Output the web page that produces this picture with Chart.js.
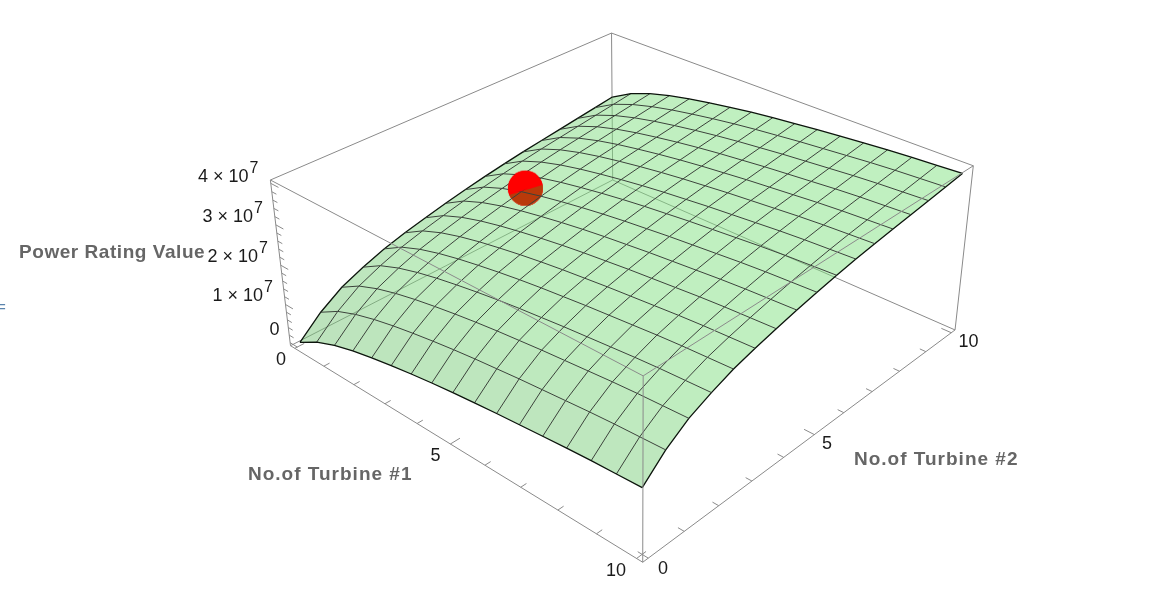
<!DOCTYPE html>
<html lang="en">
<head>
    <meta charset="UTF-8">
    <title>Power Rating Value</title>
    <script src="https://cdn.jsdelivr.net/npm/chart.js"></script>
    <style>
        html, body { margin: 0; padding: 0; background: #fff; overflow: hidden; }
        canvas { display: block; }
    </style>
</head>
<body>
    <canvas id="surfaceChart" width="1150" height="612"></canvas>

    <script>
        // turbine counts at the mesh lines
        const turbine1 = [0, 0.625, 1.25, 1.875, 2.5, 3.125, 3.75, 4.375, 5, 5.625, 6.25, 6.875, 7.5, 8.125, 8.75, 9.375, 10];
        const turbine2 = [0, 0.625, 1.25, 1.875, 2.5, 3.125, 3.75, 4.375, 5, 5.625, 6.25, 6.875, 7.5, 8.125, 8.75, 9.375, 10];

        // power rating in units of 1e7, one row per turbine1 value
        const powerRating = [
            [0.00, 0.49, 0.85, 1.09, 1.29, 1.44, 1.57, 1.69, 1.80, 1.90, 1.99, 2.07, 2.14, 2.21, 2.28, 2.35, 2.42],
            [0.30, 0.79, 1.15, 1.39, 1.59, 1.74, 1.87, 1.99, 2.10, 2.20, 2.29, 2.37, 2.44, 2.51, 2.58, 2.65, 2.72],
            [0.50, 0.99, 1.35, 1.59, 1.79, 1.94, 2.07, 2.19, 2.30, 2.40, 2.49, 2.57, 2.64, 2.71, 2.78, 2.85, 2.92],
            [0.65, 1.14, 1.50, 1.74, 1.94, 2.09, 2.22, 2.34, 2.45, 2.55, 2.64, 2.72, 2.79, 2.86, 2.93, 3.00, 3.07],
            [0.77, 1.26, 1.62, 1.86, 2.06, 2.21, 2.34, 2.46, 2.57, 2.67, 2.76, 2.84, 2.91, 2.98, 3.05, 3.12, 3.19],
            [0.87, 1.36, 1.72, 1.96, 2.16, 2.31, 2.44, 2.56, 2.67, 2.77, 2.86, 2.94, 3.01, 3.08, 3.15, 3.22, 3.29],
            [0.96, 1.45, 1.81, 2.05, 2.25, 2.40, 2.53, 2.65, 2.76, 2.86, 2.95, 3.03, 3.10, 3.17, 3.24, 3.31, 3.38],
            [1.04, 1.53, 1.89, 2.13, 2.33, 2.48, 2.61, 2.73, 2.84, 2.94, 3.03, 3.11, 3.18, 3.25, 3.32, 3.39, 3.46],
            [1.11, 1.60, 1.96, 2.20, 2.40, 2.55, 2.68, 2.80, 2.91, 3.01, 3.10, 3.18, 3.25, 3.32, 3.39, 3.46, 3.53],
            [1.17, 1.66, 2.02, 2.26, 2.46, 2.61, 2.74, 2.86, 2.97, 3.07, 3.16, 3.24, 3.31, 3.38, 3.45, 3.52, 3.59],
            [1.23, 1.72, 2.08, 2.32, 2.52, 2.67, 2.80, 2.92, 3.03, 3.13, 3.22, 3.30, 3.37, 3.44, 3.51, 3.58, 3.65],
            [1.28, 1.77, 2.13, 2.37, 2.57, 2.72, 2.85, 2.97, 3.08, 3.18, 3.27, 3.35, 3.42, 3.49, 3.56, 3.63, 3.70],
            [1.33, 1.82, 2.18, 2.42, 2.62, 2.77, 2.90, 3.02, 3.13, 3.23, 3.32, 3.40, 3.47, 3.54, 3.61, 3.68, 3.75],
            [1.38, 1.87, 2.23, 2.47, 2.67, 2.82, 2.95, 3.07, 3.18, 3.28, 3.37, 3.45, 3.52, 3.59, 3.66, 3.73, 3.80],
            [1.42, 1.91, 2.27, 2.51, 2.71, 2.86, 2.99, 3.11, 3.22, 3.32, 3.41, 3.49, 3.56, 3.63, 3.70, 3.77, 3.84],
            [1.45, 1.94, 2.30, 2.54, 2.74, 2.89, 3.02, 3.14, 3.25, 3.35, 3.44, 3.52, 3.59, 3.66, 3.73, 3.80, 3.87],
            [1.48, 1.97, 2.33, 2.57, 2.77, 2.92, 3.05, 3.17, 3.28, 3.38, 3.47, 3.55, 3.62, 3.69, 3.76, 3.83, 3.90]
        ];

        // the red marker: turbine1, turbine2, power rating
        const optimum = { t1: 1.8, t2: 5.2, z: 2.43 };

        const turbineTicks = [0, 1, 2, 3, 4, 5, 6, 7, 8, 9, 10];
        const turbineMajorTicks = [0, 5, 10];
        const powerTicks = [0, 1, 2, 3, 4];
        const powerMinorTicks = [0.2, 0.4, 0.6, 0.8, 1.2, 1.4, 1.6, 1.8, 2.2, 2.4, 2.6, 2.8, 3.2, 3.4, 3.6, 3.8];

        // view of the box, found from its corners in the picture
        const camera = [
            [243.8, 434.2, -35, 290.5],
            [121.7, -132.8, -175.6, 345.7],
            [-0.1687, 0.1828, -0.055, 1]
        ];
        const turbinePad = 0.15;
        const zMin = -0.08, zMax = 4.08;

        function projectBox(u, v, w) {
            const d = camera[2][0] * u + camera[2][1] * v + camera[2][2] * w + camera[2][3];
            return {
                x: (camera[0][0] * u + camera[0][1] * v + camera[0][2] * w + camera[0][3]) / d,
                y: (camera[1][0] * u + camera[1][1] * v + camera[1][2] * w + camera[1][3]) / d
            };
        }
        function toU(t) { return (t + turbinePad) / (10 + 2 * turbinePad); }
        function toW(z) { return (z - zMin) / (zMax - zMin); }
        function project(t1, t2, z) { return projectBox(toU(t1), toU(t2), toW(z)); }

        const GAP = { x: NaN, y: NaN };

        function boxPath(corners) {
            const pts = [];
            corners.forEach(c => {
                pts.push(projectBox(c[0], c[1], c[2]), projectBox(c[3], c[4], c[5]), GAP);
            });
            return pts;
        }

        const backEdges = boxPath([
            [0, 0, 0, 0, 1, 0], [0, 1, 0, 1, 1, 0], [0, 1, 0, 0, 1, 1]
        ]);
        const frontEdges = boxPath([
            [0, 0, 0, 1, 0, 0], [1, 0, 0, 1, 1, 0],
            [0, 0, 1, 1, 0, 1], [1, 0, 1, 1, 1, 1], [0, 0, 1, 0, 1, 1], [0, 1, 1, 1, 1, 1],
            [0, 0, 0, 0, 0, 1], [1, 0, 0, 1, 0, 1], [1, 1, 0, 1, 1, 1]
        ]);

        // tick marks on the three labelled edges
        const tickMarks = [];
        turbineTicks.forEach(t => {
            const len = turbineMajorTicks.includes(t) ? 0.025 : 0.015;
            tickMarks.push(projectBox(toU(t), 0, 0), projectBox(toU(t), len, 0), GAP);
            tickMarks.push(projectBox(1, toU(t), 0), projectBox(1 - len, toU(t), 0), GAP);
        });
        powerTicks.forEach(z => {
            tickMarks.push(projectBox(0, 0, toW(z)), projectBox(0.025, 0, toW(z)), GAP);
        });
        powerMinorTicks.forEach(z => {
            tickMarks.push(projectBox(0, 0, toW(z)), projectBox(0.015, 0, toW(z)), GAP);
        });

        // mesh lines along each direction
        const meshLines = [];
        turbine1.forEach((t1, i) => {
            meshLines.push({ edge: i === 0 || i === turbine1.length - 1,
                pts: turbine2.map((t2, j) => project(t1, t2, powerRating[i][j])) });
        });
        turbine2.forEach((t2, j) => {
            meshLines.push({ edge: j === 0 || j === turbine2.length - 1,
                pts: turbine1.map((t1, i) => project(t1, t2, powerRating[i][j])) });
        });

        // ball images: full one under the mesh, top cap above it
        function ballImage(capOnly) {
            const r = 17.5;
            const c = document.createElement("canvas");
            c.width = c.height = 2 * r + 2;
            const g = c.getContext("2d");
            g.translate(r + 1, r + 1);
            g.beginPath();
            g.arc(0, 0, r, 0, Math.PI * 2);
            g.clip();
            g.fillStyle = "#ff0000";
            g.fillRect(-r - 1, -r - 1, 2 * r + 2, 2 * r + 2);
            g.beginPath();
            g.moveTo(-r - 1, 7);
            g.lineTo(r + 1, -4);
            g.lineTo(r + 1, r + 1);
            g.lineTo(-r - 1, r + 1);
            g.closePath();
            if (capOnly) {
                g.globalCompositeOperation = "destination-out";
                g.fillStyle = "#000";
            } else {
                g.fillStyle = "#b93a0a";
            }
            g.fill();
            return c;
        }

        function lineSet(data, color, width) {
            return {
                data: data, showLine: true, spanGaps: false, borderColor: color, borderWidth: width,
                pointRadius: 0, fill: false, tension: 0
            };
        }

        const datasets = [];
        datasets.push(lineSet(backEdges, "#8a8a8a", 1));
        const ballPoint = project(optimum.t1, optimum.t2, optimum.z);
        datasets.push({ data: [ballPoint], pointStyle: ballImage(false), pointRadius: 18 });
        meshLines.forEach(m => {
            datasets.push(lineSet(m.pts, m.edge ? "#0c140c" : "#3a423a", m.edge ? 1.3 : 1));
        });
        datasets.push({ data: [ballPoint], pointStyle: ballImage(true), pointRadius: 18 });
        datasets.push(lineSet(frontEdges, "#8a8a8a", 1));
        datasets.push(lineSet(tickMarks, "#8a8a8a", 1));
        // first in the list gets painted first
        datasets.forEach((d, idx) => { d.order = datasets.length - idx; });

        // translucent surface cells, painted right after the hidden box edges
        const surfacePlugin = {
            id: "surfaceCells",
            afterDatasetDraw(chart, args) {
                if (args.index !== 0) return;
                const { ctx, scales } = chart;
                const px = p => [scales.x.getPixelForValue(p.x), scales.y.getPixelForValue(p.y)];
                ctx.save();
                for (let i = 0; i < turbine1.length - 1; i++) {
                    for (let j = 0; j < turbine2.length - 1; j++) {
                        const corners = [[i, j], [i + 1, j], [i + 1, j + 1], [i, j + 1]].map(c =>
                            px(project(turbine1[c[0]], turbine2[c[1]], powerRating[c[0]][c[1]])));
                        const slope = powerRating[i + 1][j] + powerRating[i][j + 1] - 2 * powerRating[i][j];
                        const t = Math.min(1, Math.max(0, (slope - 0.14) / 0.6));
                        const r = 130 - 8 * t, g = 225 - 28 * t, b = 130 - 8 * t;
                        ctx.fillStyle = `rgba(${r},${g},${b},0.5)`;
                        ctx.beginPath();
                        corners.forEach((c, k) => k ? ctx.lineTo(c[0], c[1]) : ctx.moveTo(c[0], c[1]));
                        ctx.closePath();
                        ctx.fill();
                    }
                }
                ctx.restore();
            }
        };

        const labelPlugin = {
            id: "labels",
            afterDatasetsDraw(chart) {
                const { ctx } = chart;
                ctx.save();
                ctx.textBaseline = "alphabetic";
                ctx.fillStyle = "#1a1a1a";
                ctx.font = '18px "Liberation Sans"';
                ctx.textAlign = "center";
                ctx.fillText("0", 281, 365);
                ctx.fillText("5", 435.5, 461);
                ctx.fillText("10", 616, 576);
                ctx.fillText("0", 663, 574);
                ctx.fillText("5", 827, 449);
                ctx.fillText("10", 968.5, 347);
                ctx.textAlign = "right";
                ctx.fillText("0", 279.5, 335);
                [[4, 248.5, 181.5], [3, 253, 221.5], [2, 258, 261.5], [1, 263, 300.5]].forEach(r => {
                    ctx.textAlign = "right";
                    ctx.font = '18px "Liberation Sans"';
                    ctx.fillText(r[0] + " \u00d7 10", r[1], r[2]);
                    ctx.textAlign = "left";
                    ctx.font = '16px "Liberation Sans"';
                    ctx.fillText("7", r[1] + 1, r[2] - 9);
                });
                ctx.fillStyle = "#666666";
                ctx.font = 'bold 19px "Liberation Sans"';
                ctx.textAlign = "left";
                ctx.letterSpacing = "0.55px";
                ctx.fillText("Power Rating Value", 19, 258);
                ctx.letterSpacing = "1px";
                ctx.fillText("No.of Turbine #1", 248, 480);
                ctx.fillText("No.of Turbine #2", 854, 465);
                ctx.letterSpacing = "0px";
                ctx.fillStyle = "#5b84ad";
                ctx.font = '17px "Liberation Sans"';
                ctx.fillText("=", -4, 312);
                ctx.restore();
            }
        };

        new Chart(document.getElementById("surfaceChart"), {
            type: "scatter",
            data: { datasets: datasets },
            options: {
                responsive: false,
                animation: false,
                events: [],
                layout: { padding: 0, autoPadding: false },
                plugins: { legend: { display: false }, tooltip: { enabled: false } },
                scales: {
                    x: { type: "linear", display: false, min: 0, max: 1150 },
                    y: { type: "linear", display: false, min: 0, max: 612, reverse: true }
                }
            },
            plugins: [surfacePlugin, labelPlugin]
        });
    </script>
</body>
</html>
